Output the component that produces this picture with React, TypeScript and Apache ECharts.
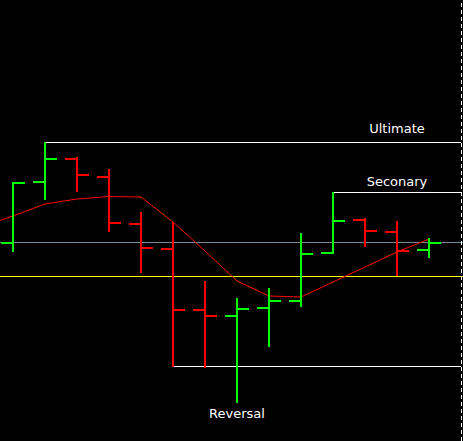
import React, { useEffect, useRef } from "react";
import * as echarts from "echarts";

// OHLC bars (index, open, high, low, close)
const barIndex = [0, 1, 2, 3, 4, 5, 6, 7, 8, 9, 10, 11, 12, 13];
const opens = [1.3198, 1.3259, 1.3282, 1.3264, 1.3217, 1.3192, 1.3131, 1.3125, 1.3133, 1.3140, 1.3188, 1.3221, 1.3209, 1.3191];
const highs = [1.3259, 1.3299, 1.3284, 1.3272, 1.3229, 1.3219, 1.3160, 1.3143, 1.3153, 1.3208, 1.3249, 1.3223, 1.3220, 1.3203];
const lows = [1.3189, 1.3241, 1.3249, 1.3209, 1.3168, 1.3074, 1.3073, 1.3038, 1.3094, 1.3134, 1.3187, 1.3194, 1.3165, 1.3183];
const closes = [1.3258, 1.3282, 1.3266, 1.3218, 1.3193, 1.3131, 1.3125, 1.3132, 1.3140, 1.3187, 1.3220, 1.3210, 1.3190, 1.3198];

// moving average (starts one bar before the visible range)
const maIndex = [-1, 0, 1, 2, 3, 4, 5, 6, 7, 8, 9, 10, 11, 12, 13];
const maValues = [1.3214, 1.3225, 1.3237, 1.3242, 1.32445, 1.3244, 1.3219, 1.3190, 1.3160, 1.3145, 1.3144, 1.3159, 1.3174, 1.3189, 1.3202];

// level lines
const levelNames = ["Ultimate", "Seconary", "Reversal"];
const levelStart = [1, 10, 5];
const levelPrice = [1.32985, 1.32485, 1.30745];
const levelEnd = 14;
const currentPrice = 1.31985;
const yellowLevel = 1.31645;
const shiftIndex = 14.015625;

const X_MIN = -0.40625;
const X_MAX = 14.0625;
const Y_MIN = 1.3;
const Y_MAX = 1.3441;

export default function App() {
  const ref = useRef<HTMLDivElement>(null);
  useEffect(() => {
    if (!ref.current) return;
    const chart = echarts.init(ref.current, null, { renderer: "svg" });
    const ohlc = barIndex.map((x, i) => [x, opens[i], highs[i], lows[i], closes[i]]);
    const levelSeries = levelNames.map((name, k) => ({
      type: "line",
      name,
      data: [
        [levelStart[k], levelPrice[k]],
        [levelEnd, levelPrice[k]],
      ],
      symbol: "none",
      lineStyle: { color: "#ffffff", width: 1 },
      z: 3,
    }));
    chart.setOption({
      animation: false,
      backgroundColor: "#000000",
      grid: { left: 0, right: 0, top: 0, bottom: 0 },
      xAxis: {
        type: "value",
        min: X_MIN,
        max: X_MAX,
        show: false,
        splitLine: { show: false },
      },
      yAxis: {
        type: "value",
        min: Y_MIN,
        max: Y_MAX,
        show: false,
        splitLine: { show: false },
      },
      series: [
        {
          type: "line",
          name: "price",
          data: [
            [X_MIN, currentPrice],
            [X_MAX, currentPrice],
          ],
          symbol: "none",
          lineStyle: { color: "#778899", width: 1 },
          z: 1,
        },
        {
          type: "line",
          name: "level",
          data: [
            [X_MIN, yellowLevel],
            [X_MAX, yellowLevel],
          ],
          symbol: "none",
          lineStyle: { color: "#ffff00", width: 1 },
          z: 1,
        },
        {
          type: "line",
          name: "shift",
          data: [
            [shiftIndex, Y_MIN],
            [shiftIndex, Y_MAX],
          ],
          symbol: "none",
          lineStyle: { color: "#ffffff", width: 1, type: [4, 3] },
          z: 2,
        },
        ...levelSeries,
        {
          type: "line",
          name: "MA",
          data: maIndex.map((x, i) => [x, maValues[i]]),
          symbol: "none",
          lineStyle: { color: "#ff0000", width: 1 },
          z: 4,
        },
        {
          type: "custom",
          name: "OHLC",
          data: ohlc,
          z: 5,
          renderItem: (params: any, api: any) => {
            const x = api.value(0);
            const o = api.value(1);
            const h = api.value(2);
            const l = api.value(3);
            const c = api.value(4);
            const pH = api.coord([x, h]);
            const pL = api.coord([x, l]);
            const pO = api.coord([x, o]);
            const pC = api.coord([x, c]);
            const color = c >= o ? "#00ff00" : "#ff0000";
            const style = { stroke: color, lineWidth: 2 };
            const cx = Math.round(pH[0]);
            return {
              type: "group",
              children: [
                { type: "line", shape: { x1: cx, y1: pH[1], x2: cx, y2: pL[1] }, style },
                { type: "line", shape: { x1: cx - 12, y1: pO[1], x2: cx, y2: pO[1] }, style },
                { type: "line", shape: { x1: cx, y1: pC[1], x2: cx + 12, y2: pC[1] }, style },
              ],
            };
          },
        },
      ],
      graphic: [
        {
          type: "text",
          x: 397,
          y: 128.5,
          style: { text: "Ultimate", fill: "#ffffff", font: "13px 'DejaVu Sans'", textAlign: "center", textVerticalAlign: "middle" },
        },
        {
          type: "text",
          x: 397,
          y: 181,
          style: { text: "Seconary", fill: "#ffffff", font: "13px 'DejaVu Sans'", textAlign: "center", textVerticalAlign: "middle" },
        },
        {
          type: "text",
          x: 237,
          y: 413,
          style: { text: "Reversal", fill: "#ffffff", font: "13px 'DejaVu Sans'", textAlign: "center", textVerticalAlign: "middle" },
        },
      ],
    });
    return () => chart.dispose();
  }, []);
  return (
    <div
      ref={ref}
      style={{ position: "fixed", left: 0, top: 0, width: 463, height: 441, background: "#000" }}
    />
  );
}
